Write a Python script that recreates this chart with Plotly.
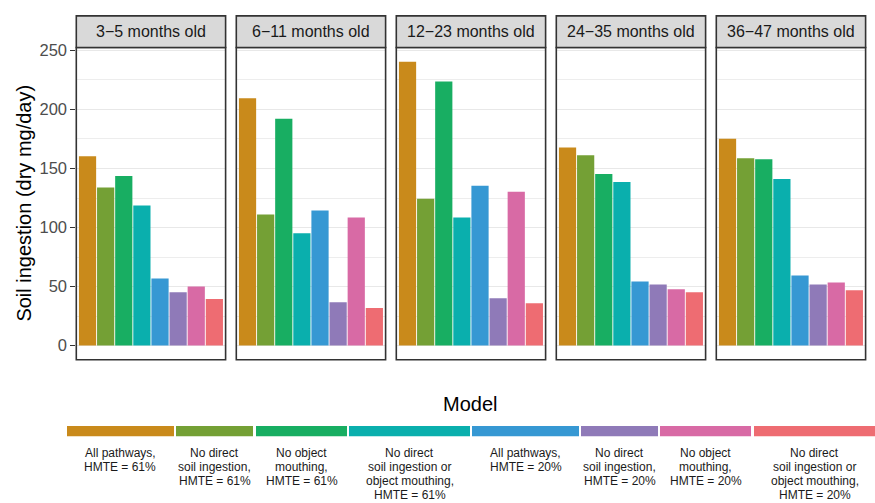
import plotly.graph_objects as go

# ---- data -------------------------------------------------------------
age_groups = ["3−5 months old", "6−11 months old", "12−23 months old",
              "24−35 months old", "36−47 months old"]

models = [
    "All pathways,<br>HMTE = 61%",
    "No direct<br>soil ingestion,<br>HMTE = 61%",
    "No object<br>mouthing,<br>HMTE = 61%",
    "No direct<br>soil ingestion or<br>object mouthing,<br>HMTE = 61%",
    "All pathways,<br>HMTE = 20%",
    "No direct<br>soil ingestion,<br>HMTE = 20%",
    "No object<br>mouthing,<br>HMTE = 20%",
    "No direct<br>soil ingestion or<br>object mouthing,<br>HMTE = 20%",
]

ingestion_3_5 = [160.3, 133.9, 143.6, 118.6, 56.8, 45.1, 50.1, 39.5]
ingestion_6_11 = [209.6, 111.1, 192.1, 95.2, 114.4, 36.7, 108.5, 31.7]
ingestion_12_23 = [240.5, 124.4, 223.8, 108.5, 135.3, 40.1, 130.3, 35.9]
ingestion_24_35 = [167.8, 161.2, 145.3, 138.6, 54.3, 51.8, 47.6, 45.1]
ingestion_36_47 = [175.3, 158.6, 157.8, 141.1, 59.3, 51.8, 53.4, 46.8]

y_ticks = [0, 50, 100, 150, 200, 250]

# ---- styling ----------------------------------------------------------
colors = ["#C98A1B", "#74A035", "#18AE62", "#0AAFAD",
          "#3698D3", "#8F7AB8", "#D86AA5", "#EE6C72"]
FONT = "Liberation Sans, Arial, Helvetica, sans-serif"
W, H = 875, 503
BORDER = "#333333"

# panel geometry in pixels
panel_left0, panel_w, panel_step = 76.3, 149.3, 160.0
panel_top, panel_bottom = 42.0, 358.0
strip_top = 10.0

# legend key spans in pixels (left, right)
key_spans = [(67, 174), (176, 253), (256, 347), (349, 470),
             (472, 579), (581, 658), (660, 751), (754, 875)]
key_top, key_bottom = 425.0, 435.5
label_first_line, label_line_step = 452.5, 14.2


def px_x(p):
    return p / W


def px_y(p):
    return 1 - p / H


series = [ingestion_3_5, ingestion_6_11, ingestion_12_23,
          ingestion_24_35, ingestion_36_47]
vmax = max(max(s) for s in series)
y_range = [-0.05 * vmax, 1.05 * vmax]

fig = go.Figure()
layout = dict(
    width=W, height=H,
    margin=dict(l=0, r=0, t=0, b=0),
    paper_bgcolor="white", plot_bgcolor="white",
    bargap=0.05, showlegend=False,
    font=dict(family=FONT, color="#000000"),
)
shapes, annotations = [], []

for i, (age, vals) in enumerate(zip(age_groups, series)):
    n = "" if i == 0 else str(i + 1)
    fig.add_trace(go.Bar(
        x=models, y=vals,
        marker=dict(color=colors, line=dict(width=0)),
        xaxis="x" + n, yaxis="y" + n,
        hovertemplate="%{y:.1f}<extra>" + age + "</extra>",
    ))
    x0 = panel_left0 + i * panel_step
    x1 = x0 + panel_w
    layout["xaxis" + n] = dict(
        domain=[px_x(x0), px_x(x1)], anchor="y" + n,
        range=[-0.62, 7.62], showticklabels=False, ticks="",
        showgrid=False, zeroline=False, fixedrange=True,
    )
    yax = dict(
        domain=[px_y(panel_bottom), px_y(panel_top)], anchor="x" + n,
        range=y_range, tickmode="array", tickvals=y_ticks,
        showgrid=True, gridcolor="#E8E8E8", gridwidth=1.4,
        minor=dict(tickmode="linear", tick0=0, dtick=25, showgrid=True,
                   gridcolor="#EDEDED", gridwidth=0.8, ticks=""),
        zeroline=False, fixedrange=True,
    )
    if i == 0:
        yax.update(ticks="outside", ticklen=5, tickwidth=1, tickcolor=BORDER,
                   showticklabels=True,
                   tickfont=dict(family=FONT, size=16.5, color="#4D4D4D"))
    else:
        yax.update(matches="y", showticklabels=False, ticks="")
    layout["yaxis" + n] = yax

    # panel border
    shapes.append(dict(type="rect", xref="paper", yref="paper",
                       x0=px_x(x0), x1=px_x(x1),
                       y0=px_y(panel_bottom), y1=px_y(panel_top),
                       line=dict(color=BORDER, width=1.6),
                       fillcolor="rgba(0,0,0,0)", layer="above"))
    # facet strip
    shapes.append(dict(type="rect", xref="paper", yref="paper",
                       x0=px_x(x0), x1=px_x(x1),
                       y0=px_y(panel_top), y1=px_y(strip_top),
                       line=dict(color=BORDER, width=1.6),
                       fillcolor="#D9D9D9", layer="above"))
    annotations.append(dict(text=age, xref="paper", yref="paper",
                            x=px_x((x0 + x1) / 2),
                            y=px_y((strip_top + panel_top) / 2),
                            xanchor="center", yanchor="middle",
                            showarrow=False,
                            font=dict(family=FONT, size=16, color="#1A1A1A")))

# y-axis title
annotations.append(dict(text="Soil ingestion (dry mg/day)", xref="paper",
                        yref="paper", x=px_x(24), y=px_y(200),
                        xanchor="center", yanchor="middle", textangle=-90,
                        showarrow=False,
                        font=dict(family=FONT, size=20, color="#000000")))

# legend title
annotations.append(dict(text="Model", xref="paper", yref="paper",
                        x=px_x(470), y=px_y(403), xanchor="center",
                        yanchor="middle", showarrow=False,
                        font=dict(family=FONT, size=20, color="#000000")))

# legend keys and (line by line) labels
for (kx0, kx1), col, label in zip(key_spans, colors, models):
    shapes.append(dict(type="rect", xref="paper", yref="paper",
                       x0=px_x(kx0), x1=px_x(kx1),
                       y0=px_y(key_bottom), y1=px_y(key_top),
                       line=dict(width=0), fillcolor=col))
    for k, line in enumerate(label.split("<br>")):
        annotations.append(dict(text=line, xref="paper", yref="paper",
                                x=px_x((kx0 + kx1) / 2),
                                y=px_y(label_first_line + k * label_line_step),
                                xanchor="center", yanchor="middle",
                                showarrow=False,
                                font=dict(family=FONT, size=12,
                                          color="#1A1A1A")))

layout["shapes"] = shapes
layout["annotations"] = annotations
fig.update_layout(**layout)
fig.write_html("out.html")
